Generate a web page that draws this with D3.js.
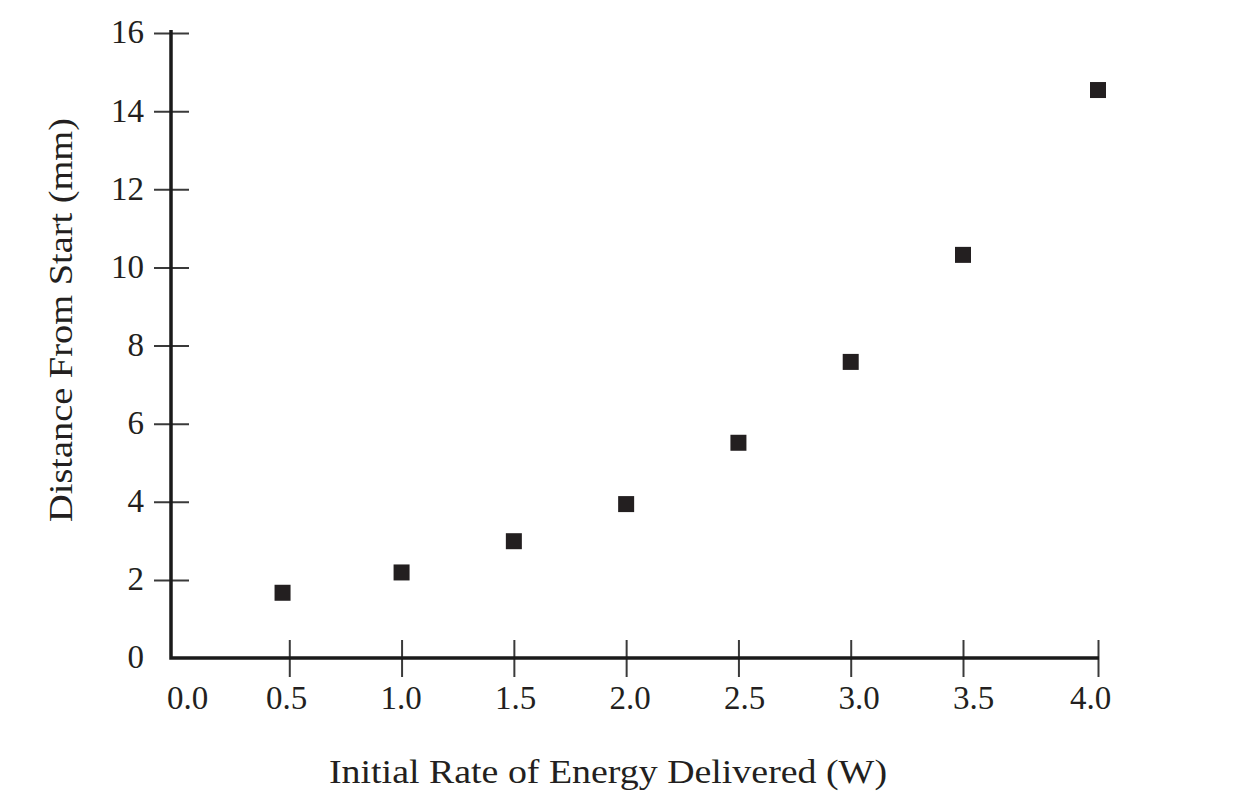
<!DOCTYPE html>
<html>
<head>
<meta charset="utf-8">
<script src="https://cdn.jsdelivr.net/npm/d3@7"></script>
<style>
	body { margin: 0; background: #fff; }
	text { font-family: "Liberation Serif", "DejaVu Serif", serif; fill: #231f20; }
</style>
</head>
<body>
<svg id="chart" width="1238" height="804"></svg>
<script>
// values
const power = [0.47, 1.0, 1.5, 2.0, 2.5, 3.0, 3.5, 4.0];
const distance = [1.67, 2.19, 2.99, 3.94, 5.51, 7.58, 10.32, 14.54];
const xTicks = [0.0, 0.5, 1.0, 1.5, 2.0, 2.5, 3.0, 3.5, 4.0];
const yTicks = [0, 2, 4, 6, 8, 10, 12, 14, 16];
const xTitle = "Initial Rate of Energy Delivered (W)";
const yTitle = "Distance From Start (mm)";

const svg = d3.select("#chart");

// the source graphic spaces the last interval wider, so a polylinear scale
const X = d3.scaleLinear().domain([0, 3.5, 4.0]).range([177, 963, 1098]);
// tick labels in the source sit a little off their ticks
const XL = d3.scaleLinear().domain([0, 0.5, 3.5, 4.0]).range([187, 286, 973, 1090]);
const Y = d3.scaleLinear().domain([0, 16]).range([658, 33]);
const x0 = 171, y0 = 658;

// y ticks, crossing the axis
const yAxis = svg.append("g").attr("transform", `translate(${x0},0)`)
	.call(d3.axisLeft(Y).tickValues(yTicks).tickFormat(d3.format("d")).tickSize(0).tickPadding(27));
yAxis.select(".domain").remove();
yAxis.selectAll(".tick line")
	.attr("x1", -17).attr("x2", 18)
	.attr("stroke", "#3a3a3a").attr("stroke-width", 2)
	.filter(d => d === 0).remove();
yAxis.selectAll(".tick text")
	.style("font-size", "33px").attr("dy", "0.3em").attr("fill", null);

// x ticks
const xAxis = svg.append("g").attr("transform", `translate(0,${y0})`)
	.call(d3.axisBottom(X).tickValues(xTicks).tickFormat(d3.format(".1f")).tickSize(0).tickPadding(28));
xAxis.select(".domain").remove();
xAxis.selectAll(".tick line")
	.attr("y1", -18).attr("y2", 19)
	.attr("stroke", "#3a3a3a").attr("stroke-width", 2)
	.filter(d => d === 0).remove();
xAxis.selectAll(".tick text")
	.style("font-size", "33px").attr("dy", "0.71em").attr("fill", null)
	.attr("x", d => XL(d) - X(d));

// axis lines
svg.append("path")
	.attr("d", `M${x0},${Y(16) - 3}V${y0}H${X(4.0) + 1}`)
	.attr("fill", "none").attr("stroke", "#1a1a1a").attr("stroke-width", 3.5);

// points
const pts = power.map((p, i) => ({x: p, y: distance[i]}));
const s = 16;
svg.append("g").selectAll("rect").data(pts).enter().append("rect")
	.attr("x", d => X(d.x) - s / 2)
	.attr("y", d => Y(d.y) - s / 2)
	.attr("width", s).attr("height", s)
	.attr("fill", "#231f20");

// titles
svg.append("text")
	.attr("x", 608).attr("y", 783)
	.attr("text-anchor", "middle")
	.attr("textLength", 558).attr("lengthAdjust", "spacingAndGlyphs")
	.style("font-size", "34px")
	.text(xTitle);

svg.append("text")
	.attr("transform", "translate(72,320) rotate(-90)")
	.attr("text-anchor", "middle")
	.attr("textLength", 404).attr("lengthAdjust", "spacingAndGlyphs")
	.style("font-size", "34px")
	.text(yTitle);
</script>
</body>
</html>
